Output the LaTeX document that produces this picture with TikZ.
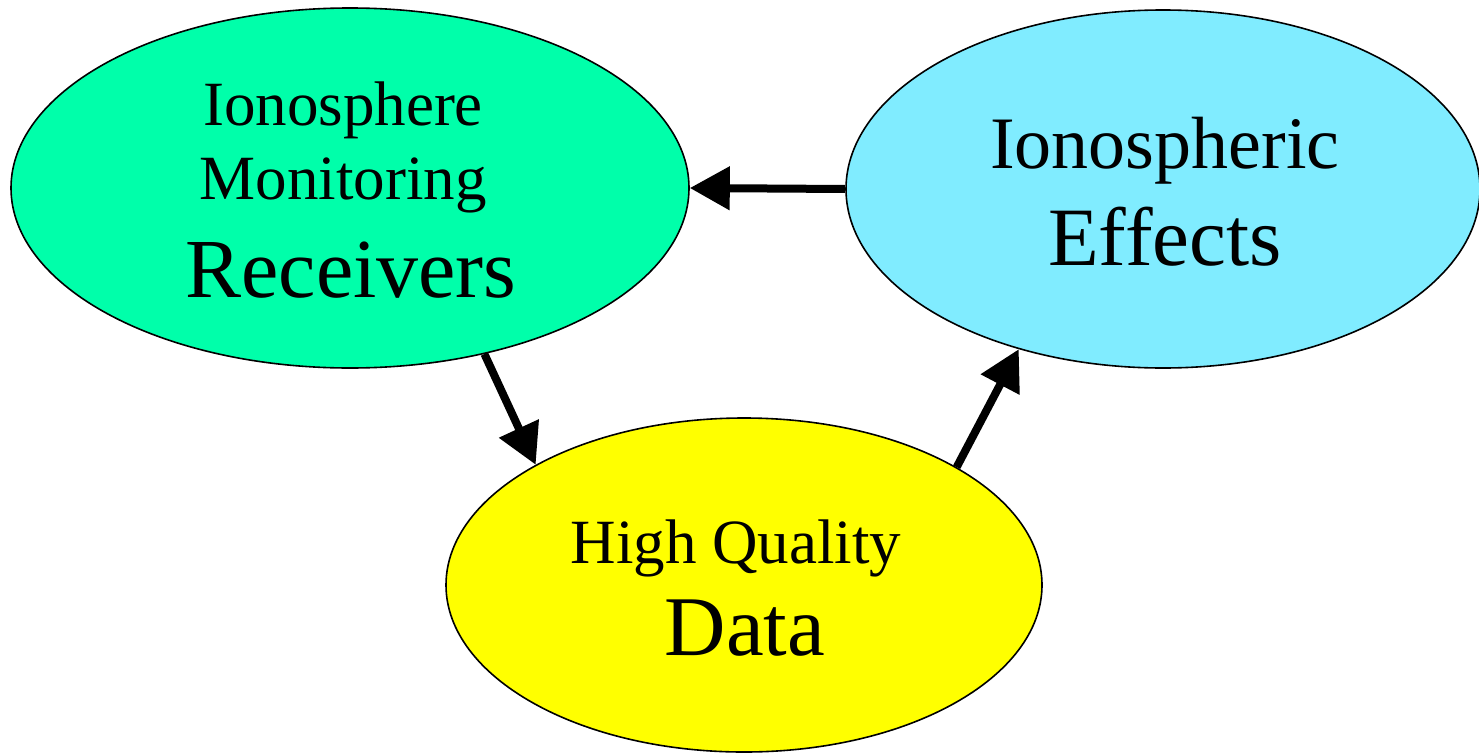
\documentclass[tikz,border=0pt]{standalone}
\usepackage{fontspec}
\setmainfont{Liberation Serif}
\usetikzlibrary{shapes.geometric,arrows.meta}
\definecolor{recgreen}{RGB}{0,255,170}
\definecolor{effcyan}{RGB}{128,236,255}
\definecolor{datayellow}{RGB}{255,255,0}
\tikzset{
  blob/.style={ellipse, draw=black, line width=1.6pt, inner sep=0pt},
  flow/.style={line width=8pt, -{Triangle[length=40pt,width=42pt]}, shorten >=0pt},
  lbl/.style={anchor=base, inner sep=0pt, text=black},
}
\newcommand{\fs}[1]{\fontsize{#1}{#1}\selectfont}
\begin{document}
\begin{tikzpicture}[x=1pt,y=-1pt]
\useasboundingbox (0,0) rectangle (1479,752);
\node[blob, fill=recgreen, minimum width=678pt, minimum height=360pt] (rec) at (350,188) {};
\node[blob, fill=effcyan, minimum width=634pt, minimum height=358pt] (eff) at (1163,189) {};
\node[blob, fill=datayellow, minimum width=596pt, minimum height=334pt] (dat) at (744,585) {};
\node[lbl] (t1) at (343,125) {\fs{63}Ionosphere};
\node[lbl] (t2) at (343,199) {\fs{63}Monitoring};
\node[lbl] (t3) at (351,297) {\fs{84}Receivers};
\node[lbl] (t4) at (1165,168) {\fs{74}Ionospheric};
\node[lbl] (t5) at (1165,265) {\fs{83}Effects};
\node[lbl] (t6) at (736,563) {\fs{63}High Quality};
\node[lbl] (t7) at (745,655) {\fs{85}Data};
\draw[flow] (eff.180) -- (rec.0);
\draw[flow] (rec.-51.6) -- (dat.150.8);
\draw[flow] (dat.29.2) -- (eff.-132);
\end{tikzpicture}
\end{document}
